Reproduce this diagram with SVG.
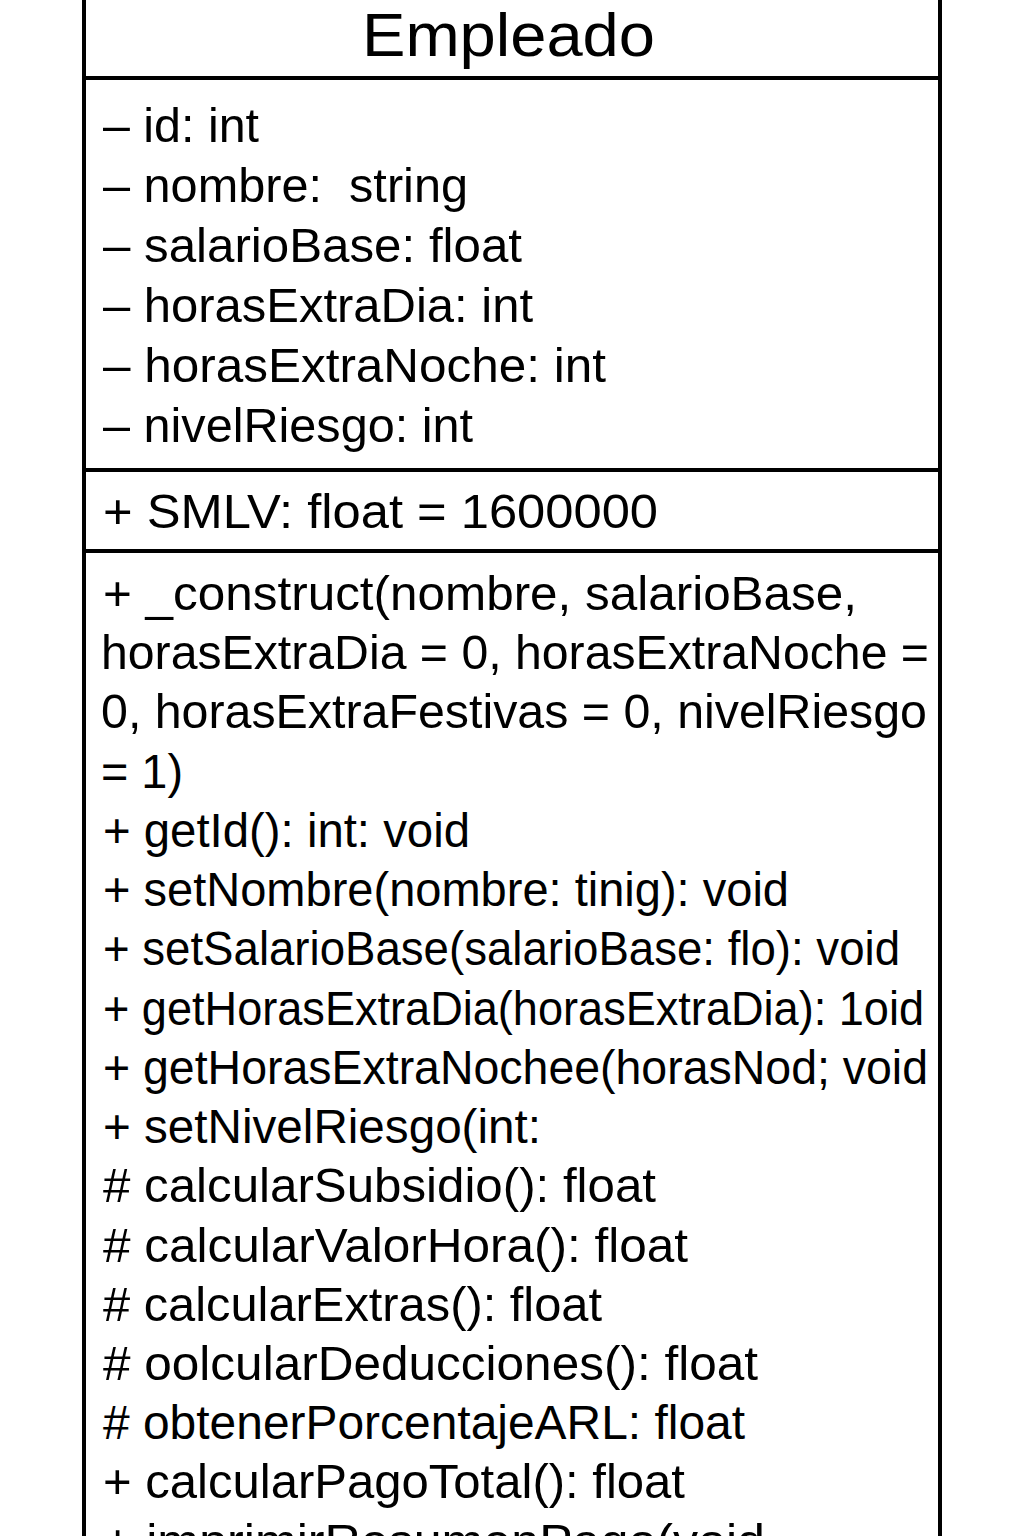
<svg xmlns="http://www.w3.org/2000/svg" width="1024" height="1536" viewBox="0 0 1024 1536">
<style>
.t{font-family:"Liberation Sans",Arial,Helvetica,sans-serif;font-size:48px;fill:#000}
.ttl{font-family:"Liberation Sans",Arial,Helvetica,sans-serif;font-size:62px;fill:#000}
.ln{stroke:#000;stroke-width:4;fill:none}
</style>
<rect width="1024" height="1536" fill="#fff"/>
<g id="Empleado">
<rect class="ln" x="84" y="-10" width="856" height="1570"/>
<line class="ln" x1="84" y1="78" x2="940" y2="78"/>
<line class="ln" x1="84" y1="470" x2="940" y2="470"/>
<line class="ln" x1="84" y1="551" x2="940" y2="551"/>
<text class="ttl" x="362" y="56" textLength="293" lengthAdjust="spacingAndGlyphs">Empleado</text>
<text class="t" x="103" y="142" textLength="156" lengthAdjust="spacingAndGlyphs">– id: int</text>
<text class="t" x="103" y="202" textLength="365" lengthAdjust="spacingAndGlyphs" xml:space="preserve">– nombre:  string</text>
<text class="t" x="103" y="262" textLength="419" lengthAdjust="spacingAndGlyphs">– salarioBase: float</text>
<text class="t" x="103" y="322" textLength="430" lengthAdjust="spacingAndGlyphs">– horasExtraDia: int</text>
<text class="t" x="103" y="382" textLength="503" lengthAdjust="spacingAndGlyphs">– horasExtraNoche: int</text>
<text class="t" x="103" y="442" textLength="370" lengthAdjust="spacingAndGlyphs">– nivelRiesgo: int</text>
<text class="t" x="103" y="528" textLength="555" lengthAdjust="spacingAndGlyphs">+ SMLV: float = 1600000</text>
<text class="t" x="103" y="610" textLength="754" lengthAdjust="spacingAndGlyphs">+ _construct(nombre, salarioBase,</text>
<text class="t" x="101" y="669" textLength="828" lengthAdjust="spacingAndGlyphs">horasExtraDia = 0, horasExtraNoche =</text>
<text class="t" x="101" y="728" textLength="826" lengthAdjust="spacingAndGlyphs">0, horasExtraFestivas = 0, nivelRiesgo</text>
<text class="t" x="101" y="788" textLength="82" lengthAdjust="spacingAndGlyphs">= 1)</text>
<text class="t" x="103" y="847" textLength="367" lengthAdjust="spacingAndGlyphs">+ getId(): int: void</text>
<text class="t" x="103" y="906" textLength="686" lengthAdjust="spacingAndGlyphs">+ setNombre(nombre: tinig): void</text>
<text class="t" x="103" y="965" textLength="797" lengthAdjust="spacingAndGlyphs">+ setSalarioBase(salarioBase: flo): void</text>
<text class="t" x="103" y="1025" textLength="821" lengthAdjust="spacingAndGlyphs">+ getHorasExtraDia(horasExtraDia): 1oid</text>
<text class="t" x="103" y="1084" textLength="825" lengthAdjust="spacingAndGlyphs">+ getHorasExtraNochee(horasNod; void</text>
<text class="t" x="103" y="1143" textLength="438" lengthAdjust="spacingAndGlyphs">+ setNivelRiesgo(int:</text>
<text class="t" x="103" y="1202" textLength="553" lengthAdjust="spacingAndGlyphs"># calcularSubsidio(): float</text>
<text class="t" x="103" y="1262" textLength="585" lengthAdjust="spacingAndGlyphs"># calcularValorHora(): float</text>
<text class="t" x="103" y="1321" textLength="499" lengthAdjust="spacingAndGlyphs"># calcularExtras(): float</text>
<text class="t" x="103" y="1380" textLength="655" lengthAdjust="spacingAndGlyphs"># oolcularDeducciones(): float</text>
<text class="t" x="103" y="1439" textLength="642" lengthAdjust="spacingAndGlyphs"># obtenerPorcentajeARL: float</text>
<text class="t" x="103" y="1498" textLength="582" lengthAdjust="spacingAndGlyphs">+ calcularPagoTotal(): float</text>
<text class="t" x="103" y="1558" textLength="662" lengthAdjust="spacingAndGlyphs">+ imprimirResumenPago(void</text>
</g>
<g id="connectors"/>
</svg>
